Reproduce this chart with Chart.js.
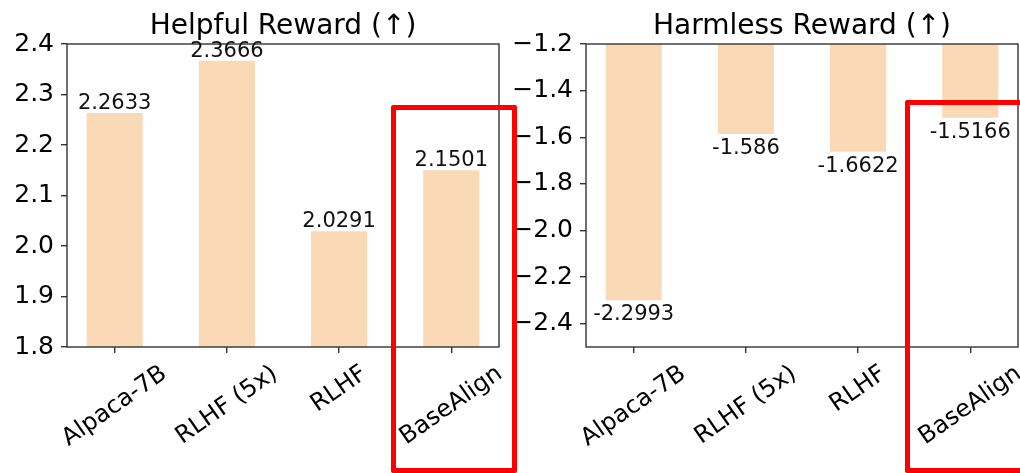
<!DOCTYPE html>
<html>
<head>
<meta charset="utf-8">
<script src="https://cdn.jsdelivr.net/npm/chart.js@4.4.0/dist/chart.umd.min.js"></script>
<style>
  body { margin: 0; background: #fff; }
  #wrap { position: relative; width: 1020px; height: 473px; overflow: hidden; background: #fff; }
  canvas { position: absolute; top: 0; }
  .box { position: absolute; border: 5.5px solid #ff0000; box-sizing: border-box; border-radius: 2px; }
</style>
</head>
<body>
<div id="wrap">
  <canvas id="helpful" width="510" height="473" style="left:0"></canvas>
  <canvas id="harmless" width="510" height="473" style="left:510px"></canvas>
  <div class="box" style="left:391px; top:105px; width:126px; height:368px"></div>
  <div class="box" style="left:905px; top:100px; width:130px; height:373px"></div>
</div>
<script>
const methods = ['Alpaca-7B', 'RLHF (5x)', 'RLHF', 'BaseAlign'];
const helpful = [2.2633, 2.3666, 2.0291, 2.1501];
const harmless = [-2.2993, -1.586, -1.6622, -1.5166];
const helpfulTicks = [1.8, 1.9, 2.0, 2.1, 2.2, 2.3, 2.4];
const harmlessTicks = [-2.4, -2.2, -2.0, -1.8, -1.6, -1.4, -1.2];

const barColor = '#fad9b7';
const spine = '#333333';
const rot = 35;

Chart.defaults.font.family = '"DejaVu Sans"';
Chart.defaults.color = '#000';

// box around the axes (matplotlib style spines)
const frame = {
  id: 'frame',
  afterDatasetsDraw(chart) {
    const { ctx, chartArea: a } = chart;
    ctx.save();
    ctx.strokeStyle = spine;
    ctx.lineWidth = 1.4;
    ctx.strokeRect(a.left, a.top, a.right - a.left, a.bottom - a.top);
    ctx.restore();
  }
};

// value text at the end of every bar
const valueLabels = {
  id: 'valueLabels',
  afterDatasetsDraw(chart) {
    const { ctx } = chart;
    const below = chart.options.plugins.valueLabels.below;
    ctx.save();
    ctx.font = '21px "DejaVu Sans"';
    ctx.fillStyle = '#111';
    ctx.textAlign = 'center';
    ctx.textBaseline = 'alphabetic';
    chart.getDatasetMeta(0).data.forEach((bar, i) => {
      const v = chart.data.datasets[0].data[i].y;
      const y = below ? bar.y + 20 : bar.y - 4;
      ctx.fillText(String(v), bar.x, y);
    });
    ctx.restore();
  }
};

// rotated category names, centred under the ticks
const catLabels = {
  id: 'catLabels',
  afterDraw(chart) {
    const { ctx } = chart;
    const xs = chart.scales.x;
    const size = 24;
    const th = rot * Math.PI / 180;
    ctx.save();
    ctx.font = size + 'px "DejaVu Sans"';
    ctx.fillStyle = '#000';
    ctx.textAlign = 'center';
    ctx.textBaseline = 'middle';
    methods.forEach((m, i) => {
      const w = ctx.measureText(m).width;
      const h = size * 1.17;
      const H = w * Math.sin(th) + h * Math.cos(th);
      const cx = xs.getPixelForValue(i);
      const cy = chart.chartArea.bottom + 13 + H / 2;
      ctx.save();
      ctx.translate(cx, cy);
      ctx.rotate(-th);
      ctx.fillText(m, 0, 0);
      ctx.restore();
    });
    ctx.restore();
  }
};

function fmt(v) {
  return v.toFixed(1).replace('-', '\u2212');
}

function makeChart(id, title, values, ticks, yMin, yMax, yWidth, padRight, below) {
  return new Chart(document.getElementById(id), {
    type: 'bar',
    data: {
      datasets: [{
        data: values.map((v, i) => ({ x: i, y: v })),
        backgroundColor: barColor,
        borderWidth: 0,
        categoryPercentage: 1,
        barPercentage: 0.5
      }]
    },
    options: {
      responsive: false,
      animation: false,
      devicePixelRatio: 1,
      layout: { padding: { left: 0, right: padRight, top: 0, bottom: 0 } },
      plugins: {
        legend: { display: false },
        tooltip: { enabled: false },
        title: {
          display: true,
          text: title,
          fullSize: false,
          color: '#000',
          font: { size: 28, weight: 'normal', lineHeight: 1.2 },
          padding: { top: 10.4, bottom: 0 }
        },
        valueLabels: { below: below }
      },
      scales: {
        x: {
          type: 'linear',
          min: -0.425,
          max: 3.425,
          offset: false,
          afterBuildTicks: (s) => { s.ticks = methods.map((m, i) => ({ value: i })); },
          afterFit: (s) => { s.height = 126; },
          ticks: { display: false },
          grid: { display: true, offset: false, drawOnChartArea: false, drawTicks: true, tickLength: 6, tickColor: spine, lineWidth: 1.4 },
          border: { display: false }
        },
        y: {
          min: yMin,
          max: yMax,
          afterBuildTicks: (s) => { s.ticks = ticks.map(v => ({ value: v })); },
          afterFit: (s) => { s.width = yWidth; },
          ticks: { padding: 7, font: { size: 25 }, color: '#000', callback: (v) => fmt(v) },
          grid: { display: true, drawOnChartArea: false, drawTicks: true, tickLength: 6, tickColor: spine, lineWidth: 1.4 },
          border: { display: false }
        }
      }
    },
    plugins: [frame, valueLabels, catLabels]
  });
}

makeChart('helpful', 'Helpful Reward (\u2191)', helpful, helpfulTicks, 1.8, 2.4, 67, 11, false);
makeChart('harmless', 'Harmless Reward (\u2191)', harmless, harmlessTicks, -2.5, -1.2, 76, 2, true);
</script>
</body>
</html>
